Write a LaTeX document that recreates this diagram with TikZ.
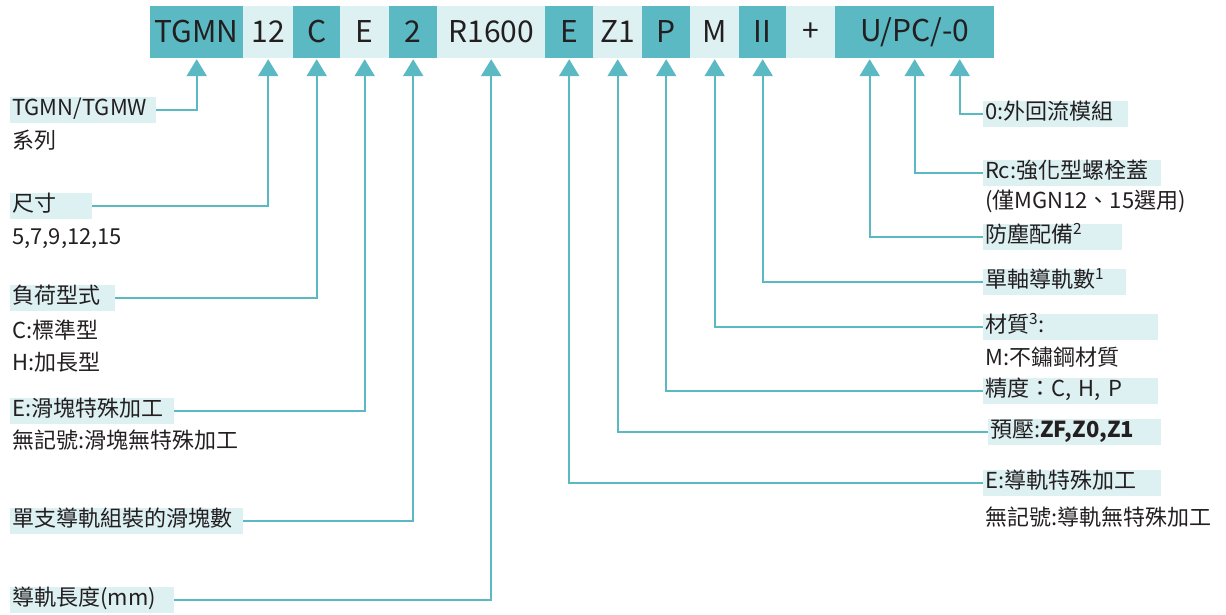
\documentclass[tikz,border=0pt]{standalone}
\usepackage{fontspec}
\setmainfont{Noto Sans CJK TC}
\usetikzlibrary{arrows.meta}
\definecolor{teal1}{HTML}{5BB9C3}
\definecolor{light1}{HTML}{DDF0F2}
\definecolor{ink}{HTML}{231F20}
\begin{document}
\begin{tikzpicture}[x=1pt,y=-1pt,
  top/.style={minimum height=52pt, inner sep=0pt, anchor=west, font=\fontsize{30}{31}\selectfont, text=ink},
  dk/.style={top, fill=teal1},
  lt/.style={top, fill=light1},
  lbl/.style={fill=light1, anchor=west, inner xsep=2pt, inner ysep=0pt, minimum height=26pt, text height=16pt, text depth=5pt, align=left, text width=#1, font=\fontsize{22}{26}\selectfont, text=ink},
  sub/.style={anchor=west, inner xsep=2pt, inner ysep=0pt, text height=16pt, text depth=5pt, font=\fontsize{22}{26}\selectfont, text=ink},
  conn/.style={draw=teal1, line width=2.3pt, shorten >=1pt, -{Triangle[width=20pt,length=17pt]}}
]
\useasboundingbox (0,0) rectangle (1226,615);
% top bar
\node[dk, minimum width=93pt] (b1) at (150,32) {TGMN};
\node[lt, minimum width=50pt] (b2) at (243,32) {12};
\node[dk, minimum width=47pt] (b3) at (293,32) {C};
\node[lt, minimum width=49pt] (b4) at (340,32) {E};
\node[dk, minimum width=48pt] (b5) at (389,32) {2};
\node[lt, minimum width=108pt] (b6) at (437,32) {R1600};
\node[dk, minimum width=48pt] (b7) at (545,32) {E};
\node[lt, minimum width=49pt] (b8) at (593,32) {Z1};
\node[dk, minimum width=48pt] (b9) at (642,32) {P};
\node[lt, minimum width=49pt] (b10) at (690,32) {M};
\node[dk, minimum width=47pt] (b11) at (739,32) {II};
\node[lt, minimum width=49pt] (b12) at (786,32) {+};
\node[dk, minimum width=159pt] (b13) at (835,32) {U/PC/-0};
\coordinate (u1) at ([xshift=-45pt]b13.south);
\coordinate (u2) at (b13.south);
\coordinate (u3) at ([xshift=45pt]b13.south);
% left labels
\node[lbl=142pt] (l1) at (10,110) {TGMN/TGMW};
\node[sub] (s1) at (10,143) {系列};
\node[lbl=78pt] (l2) at (10,206) {尺寸};
\node[sub] (s2) at (10,239) {5,7,9,12,15};
\node[lbl=101pt] (l3) at (10,298) {負荷型式};
\node[sub] (s3a) at (10,333) {C:標準型};
\node[sub] (s3b) at (10,365) {H:加長型};
\node[lbl=160pt] (l4) at (10,411) {E:滑塊特殊加工};
\node[sub] (s4) at (10,443) {無記號:滑塊無特殊加工};
\node[lbl=229pt] (l5) at (10,521) {單支導軌組裝的滑塊數};
\node[lbl=160pt] (l6) at (10,600) {導軌長度(mm)};
% right labels
\node[lbl=141pt] (r1) at (983,114) {0:外回流模組};
\node[lbl=174pt] (r2) at (983,173) {Rc:強化型螺栓蓋};
\node[sub] (t2) at (983,203) {(僅MGN12、15選用)};
\node[lbl=135pt] (r3) at (983,237) {防塵配備\textsuperscript{2}};
\node[lbl=139pt] (r4) at (983,282) {單軸導軌數\textsuperscript{1}};
\node[lbl=171pt] (r5) at (983,327) {材質\textsuperscript{3}:};
\node[sub] (t5) at (983,360) {M:不鏽鋼材質};
\node[lbl=171pt] (r6) at (983,391) {精度：C, H, P};
\node[lbl=169pt] (r7) at (988,432) {預壓:\textbf{ZF,Z0,Z1}};
\node[lbl=174pt] (r8) at (983,483) {E:導軌特殊加工};
\node[sub] (t8) at (983,520) {無記號:導軌無特殊加工};
% connectors
\draw[conn] (l1.east) -| (b1.south);
\draw[conn] (l2.east) -| (b2.south);
\draw[conn] (l3.east) -| (b3.south);
\draw[conn] (l4.east) -| (b4.south);
\draw[conn] (l5.east) -| (b5.south);
\draw[conn] (l6.east) -| (b6.south);
\draw[conn] (r1.west) -| (u3);
\draw[conn] (r2.west) -| (u2);
\draw[conn] (r3.west) -| (u1);
\draw[conn] (r4.west) -| (b11.south);
\draw[conn] (r5.west) -| (b10.south);
\draw[conn] (r6.west) -| (b9.south);
\draw[conn] (r7.west) -| (b8.south);
\draw[conn] (r8.west) -| (b7.south);
\end{tikzpicture}
\end{document}
